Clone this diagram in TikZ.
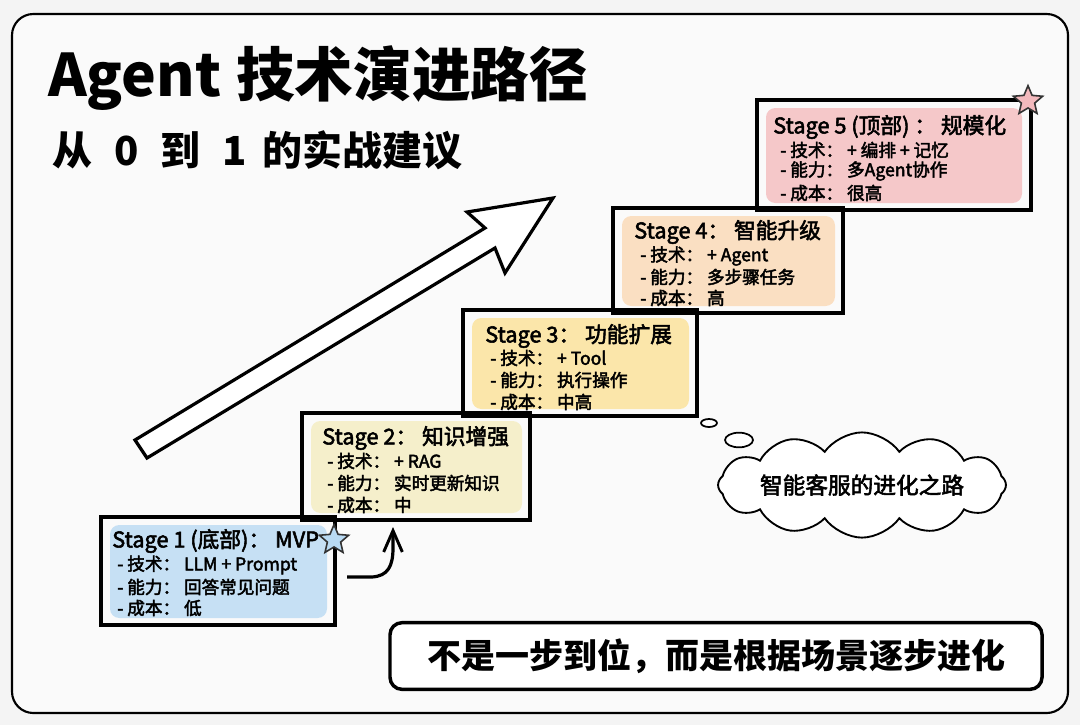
\documentclass[tikz,border=0pt]{standalone}
\usepackage{fontspec}
\setmainfont{Noto Sans CJK SC}
\newfontfamily\medfont{Noto Sans CJK SC}[FakeBold=2.5]
\usetikzlibrary{shapes.geometric,shapes.symbols,arrows.meta}
\definecolor{bgcol}{HTML}{F4F4F4}
\definecolor{cA}{HTML}{C6E0F4}
\definecolor{cB}{HTML}{F5EFCB}
\definecolor{cC}{HTML}{FBE6AA}
\definecolor{cD}{HTML}{FADFC2}
\definecolor{cE}{HTML}{F5C8C9}
\definecolor{starA}{HTML}{B9DAF3}
\definecolor{starE}{HTML}{F3B9BD}
\begin{document}
\begin{tikzpicture}[x=0.75pt,y=-0.75pt,
  frame/.style={draw=black, line width=2.8pt},
  inner/.style={rounded corners=7pt},
  stitle/.style={anchor=west, inner sep=0pt, font=\medfont\fontsize{16.3}{18}\selectfont},
  sline/.style={anchor=west, inner sep=0pt, font=\medfont\fontsize{13.2}{14}\selectfont},
  starbox/.style={star, star points=5, star point ratio=2.2, minimum size=23pt, inner sep=0pt, draw=black!80, line width=1.2pt},
  bubble/.style={ellipse, draw=black, line width=1.3pt, fill=white, inner sep=0pt}
]
\useasboundingbox (0,0) rectangle (1080,725);
\fill[bgcol] (0,0) rectangle (1080,725);
\draw[line width=1.6pt, rounded corners=16pt, fill=white!98!black] (12,14) rectangle (1068,713);

% title
\node[anchor=west, inner sep=0pt, font=\fontsize{44}{50}\selectfont\bfseries] (title) at (48,78) {Agent\hspace{0.25em}技术演进路径};
\node[anchor=west, inner sep=0pt, font=\fontsize{30}{34}\selectfont\bfseries] (subtitle) at (52,150) {从\hspace{0.55em}0\hspace{0.55em}到\hspace{0.55em}1\hspace{0.4em}的实战建议};

% big arrow
\draw[line width=2.4pt, line join=miter, fill=white] (135,440) -- (485,228) -- (467,212) -- (553,198) -- (505,273) -- (495,248) -- (147,458) -- cycle;

% stage 5
\fill[cE, inner] (766,108) rectangle (1022,203);
\draw[frame] (757,100) rectangle (1031,210);
\node[stitle] (s5) at (773,127) {Stage 5 (顶部) ： 规模化};
\node[sline] (s5a) at (780,150) {- 技术： + 编排 + 记忆};
\node[sline] (s5b) at (780,171) {- 能力： 多Agent协作};
\node[sline] (s5c) at (780,193) {- 成本： 很高};
\node[starbox, fill=starE] (st5) at (1028,101) {};

% stage 4
\fill[cD, inner] (622,216) rectangle (835,306);
\draw[frame] (613,208) rectangle (843,313);
\node[stitle] (s4) at (634,232) {Stage 4： 智能升级};
\node[sline] (s4a) at (640,256) {- 技术： + Agent};
\node[sline] (s4b) at (640,277) {- 能力： 多步骤任务};
\node[sline] (s4c) at (640,298) {- 成本： 高};

% stage 3
\fill[cC, inner] (472,318) rectangle (689,409);
\draw[frame] (463,310) rectangle (697,416);
\node[stitle] (s3) at (485,336) {Stage 3： 功能扩展};
\node[sline] (s3a) at (490,358) {- 技术： + Tool};
\node[sline] (s3b) at (490,380) {- 能力： 执行操作};
\node[sline] (s3c) at (490,402) {- 成本： 中高};

% stage 2
\fill[cB, inner] (311,421) rectangle (522,513);
\draw[frame] (302,413) rectangle (530,520);
\node[stitle] (s2) at (322,438) {Stage 2： 知识增强};
\node[sline] (s2a) at (327,461) {- 技术： + RAG};
\node[sline] (s2b) at (327,483) {- 能力： 实时更新知识};
\node[sline] (s2c) at (327,505) {- 成本： 中};

% stage 1
\fill[cA, inner] (110,525) rectangle (327,618);
\draw[frame] (101,517) rectangle (335,625);
\node[stitle] (s1) at (112,541) {Stage 1 (底部)： MVP};
\node[sline] (s1a) at (117,565) {- 技术： LLM + Prompt};
\node[sline] (s1b) at (117,587) {- 能力： 回答常见问题};
\node[sline] (s1c) at (117,608) {- 成本： 低};
\node[starbox, fill=starA] (st1) at (334,540) {};

% small curved arrow
\coordinate (a0) at (347,577);
\coordinate (a1) at (393,527);
\draw[line width=2.4pt, -{Straight Barb[length=16pt, width=14pt, line width=2.2pt]}] (a0) -- (372,577) .. controls (388,576) and (393,566) .. (393,548) -- (a1);

% thought cloud
\node[bubble, minimum width=12pt, minimum height=6pt] (b1) at (709,423) {};
\node[bubble, minimum width=21pt, minimum height=11pt] (b2) at (739,440) {};
\node[cloud, cloud puffs=12, cloud puff arc=110, aspect=4.2, draw=black, line width=1.4pt, fill=white, minimum width=192pt, minimum height=44pt, inner sep=0pt, font=\medfont\fontsize{17}{20}\selectfont] (cl) at (862,485) {智能客服的进化之路};

% bottom banner
\node[draw=black, line width=2.6pt, rounded corners=9pt, fill=white, minimum width=489pt, minimum height=50pt, font=\fontsize{25.5}{30}\selectfont\bfseries] (banner) at (716,656) {不是一步到位，而是根据场景逐步进化};
\end{tikzpicture}
\end{document}
